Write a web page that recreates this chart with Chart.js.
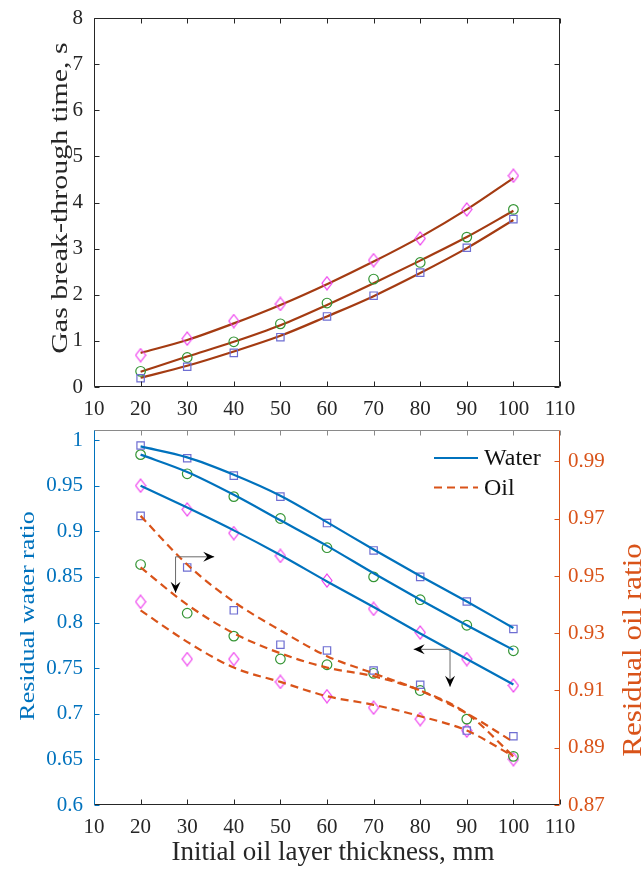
<!DOCTYPE html>
<html>
<head>
<meta charset="utf-8">
<script src="https://cdn.jsdelivr.net/npm/chart.js@4.4.1/dist/chart.umd.min.js"></script>
<style>
  body { margin: 0; background: #fff; width: 642px; height: 870px; overflow: hidden; position: relative; }
  canvas { position: absolute; left: 0; }
  #gasChart { top: 0; }
  #ratioChart { top: 420px; }
</style>
</head>
<body>
<canvas id="gasChart" width="642" height="430"></canvas>
<canvas id="ratioChart" width="642" height="450"></canvas>
<script>
// x values, mm
const thickness = [20, 30, 40, 50, 60, 70, 80, 90, 100];
const xTicks = [10, 20, 30, 40, 50, 60, 70, 80, 90, 100, 110];
const waterTicks = [0.6, 0.65, 0.7, 0.75, 0.8, 0.85, 0.9, 0.95, 1];
const oilTicks = [0.87, 0.89, 0.91, 0.93, 0.95, 0.97, 0.99];

// gas break-through time, s (markers + fitted curves)
const gasSquare  = [0.19, 0.44, 0.74, 1.08, 1.53, 1.98, 2.48, 3.02, 3.64];
const gasCircle  = [0.34, 0.64, 0.98, 1.37, 1.82, 2.34, 2.70, 3.25, 3.85];
const gasDiamond = [0.69, 1.05, 1.43, 1.80, 2.25, 2.75, 3.22, 3.85, 4.58];
const gasFitSquare  = [0.20, 0.46, 0.77, 1.11, 1.53, 1.97, 2.47, 3.01, 3.62];
const gasFitCircle  = [0.33, 0.66, 0.98, 1.34, 1.78, 2.25, 2.74, 3.25, 3.82];
const gasFitDiamond = [0.74, 1.02, 1.38, 1.78, 2.23, 2.72, 3.25, 3.85, 4.53];

// residual water ratio (left axis)
const waterSquare  = [0.994, 0.980, 0.961, 0.938, 0.909, 0.879, 0.850, 0.823, 0.793];
const waterCircle  = [0.984, 0.963, 0.938, 0.914, 0.882, 0.850, 0.825, 0.797, 0.769];
const waterDiamond = [0.950, 0.924, 0.898, 0.873, 0.846, 0.815, 0.789, 0.760, 0.731];
const waterFitSquare  = [0.993, 0.981, 0.962, 0.939, 0.910, 0.880, 0.851, 0.823, 0.794];
const waterFitCircle  = [0.984, 0.965, 0.940, 0.912, 0.884, 0.854, 0.825, 0.797, 0.770];
const waterFitDiamond = [0.950, 0.926, 0.901, 0.874, 0.845, 0.817, 0.788, 0.760, 0.732];

// residual oil ratio (right axis)
const oilSquare  = [0.971, 0.953, 0.938, 0.926, 0.924, 0.917, 0.912, 0.896, 0.894];
const oilCircle  = [0.954, 0.937, 0.929, 0.921, 0.919, 0.916, 0.910, 0.900, 0.887];
const oilDiamond = [0.941, 0.921, 0.921, 0.913, 0.908, 0.904, 0.900, 0.896, 0.886];
const oilFitSquare  = [0.971, 0.954, 0.941, 0.931, 0.922, 0.916, 0.910, 0.902, 0.892];
const oilFitCircle  = [0.953, 0.940, 0.930, 0.923, 0.918, 0.915, 0.910, 0.902, 0.887];
const oilFitDiamond = [0.938, 0.927, 0.918, 0.913, 0.908, 0.905, 0.901, 0.896, 0.887];

const FONT = "'Liberation Serif', 'Times New Roman', serif";
const AXIS = '#262626';
const BLUE = '#0072BD';
const ORANGE = '#D95319';
const FIT = '#A43B12';
const SQ = '#6E6ED2';
const CI = '#359535';
const DI = '#EE3DEE';

function diamond(color) {
  const c = document.createElement('canvas');
  c.width = 12; c.height = 15;
  const g = c.getContext('2d');
  g.strokeStyle = color; g.lineWidth = 1.2;
  g.beginPath();
  g.moveTo(6, 1); g.lineTo(11, 7.5); g.lineTo(6, 14); g.lineTo(1, 7.5); g.closePath();
  g.stroke();
  return c;
}
const diamondStyle = diamond(DI);

const pts = ys => thickness.map((x, i) => ({ x, y: ys[i] }));

function markers(ys, kind, axis) {
  const base = { data: pts(ys), showLine: false, pointBackgroundColor: 'transparent', pointBorderWidth: 1.2, label: '' };
  if (axis) base.yAxisID = axis;
  if (kind === 'sq') return { ...base, pointStyle: 'rect', pointRadius: 5.2, pointBorderColor: SQ };
  if (kind === 'ci') return { ...base, pointStyle: 'circle', pointRadius: 4.8, pointBorderColor: CI };
  return { ...base, pointStyle: diamondStyle, pointRadius: 6 };
}
function curve(ys, color, axis, dash, label) {
  const d = { data: pts(ys), borderColor: color, borderWidth: 2.2, pointRadius: 0, fill: false,
    cubicInterpolationMode: 'monotone', label: label || '' };
  if (axis) d.yAxisID = axis;
  if (dash) d.borderDash = dash;
  return d;
}

// inward ticks and box
const frame = {
  id: 'frame',
  afterDatasetsDraw(chart, args, o) {
    const { ctx, chartArea: a, scales } = chart;
    const tl = 5;
    ctx.save();
    ctx.lineWidth = 1;
    const seg = (x1, y1, x2, y2, c) => { ctx.strokeStyle = c; ctx.beginPath(); ctx.moveTo(x1, y1); ctx.lineTo(x2, y2); ctx.stroke(); };
    const L = a.left + 0.5, R = a.right - 0.5, T = a.top + 0.5, B = a.bottom - 0.5;
    scales.x.ticks.forEach(t => {
      const px = Math.round(scales.x.getPixelForValue(t.value)) + 0.5;
      seg(px, B, px, B - tl, o.bottom);
      seg(px, T, px, T + tl, o.top);
    });
    scales[o.leftScale].ticks.forEach(t => {
      const py = Math.round(scales[o.leftScale].getPixelForValue(t.value)) + 0.5;
      seg(L, py, L + tl, py, o.left);
    });
    scales[o.rightScale].ticks.forEach(t => {
      const py = Math.round(scales[o.rightScale].getPixelForValue(t.value)) + 0.5;
      seg(R, py, R - tl, py, o.right);
    });
    seg(L, B, R, B, o.bottom);
    seg(L, T, R, T, o.top);
    seg(L, T, L, B, o.left);
    seg(R, T, R, B, o.right);
    ctx.restore();
  }
};

// annotation arrows in data units
const arrows = {
  id: 'arrows',
  afterDatasetsDraw(chart, args, o) {
    if (!o.list) return;
    const { ctx, scales } = chart;
    const sx = scales.x, sy = scales.y;
    const head = (x, y, ang) => {
      ctx.save();
      ctx.translate(x, y); ctx.rotate(ang);
      ctx.fillStyle = '#000';
      ctx.beginPath();
      ctx.moveTo(0, 0); ctx.lineTo(-11, -5); ctx.lineTo(-7, 0); ctx.lineTo(-11, 5); ctx.closePath();
      ctx.fill();
      ctx.restore();
    };
    ctx.save();
    ctx.strokeStyle = '#6a6a6a';
    ctx.lineWidth = 1;
    o.list.forEach(ar => {
      const cx = sx.getPixelForValue(ar.x), cy = sy.getPixelForValue(ar.y);
      const hx = sx.getPixelForValue(ar.toX), vy = sy.getPixelForValue(ar.toY);
      ctx.beginPath();
      ctx.moveTo(hx, cy); ctx.lineTo(cx, cy); ctx.lineTo(cx, vy);
      ctx.stroke();
      head(hx, cy, hx > cx ? 0 : Math.PI);
      head(cx, vy, Math.PI / 2);
    });
    ctx.restore();
  }
};

// legend with only the two line types
const lineLegend = {
  id: 'lineLegend',
  afterDraw(chart, args, o) {
    if (!o.items) return;
    const { ctx, chartArea: a } = chart;
    ctx.save();
    ctx.font = '24px ' + FONT;
    ctx.textBaseline = 'middle';
    o.items.forEach((it, i) => {
      const ds = chart.data.datasets[it.index];
      const y = a.top + 28 + i * 29.5;
      const x0 = a.right - 126;
      ctx.strokeStyle = ds.borderColor;
      ctx.lineWidth = ds.borderWidth;
      ctx.setLineDash(ds.borderDash || []);
      ctx.beginPath(); ctx.moveTo(x0, y); ctx.lineTo(x0 + 44, y); ctx.stroke();
      ctx.setLineDash([]);
      ctx.fillStyle = '#111';
      ctx.fillText(it.text, x0 + 50, y + 1);
    });
    ctx.restore();
  }
};

// axis titles (vertical ones read bottom to top, slightly condensed like the source)
const titles = {
  id: 'titles',
  afterDraw(chart, args, o) {
    if (!o.list) return;
    const { ctx } = chart;
    o.list.forEach(t => {
      ctx.save();
      ctx.translate(t.x, t.y);
      if (t.vertical) { ctx.scale(t.squeeze || 1, 1); ctx.rotate(-Math.PI / 2); }
      ctx.font = t.size + 'px ' + FONT;
      ctx.fillStyle = t.color;
      ctx.textAlign = 'center';
      ctx.textBaseline = 'middle';
      ctx.fillText(t.text, 0, 0);
      ctx.restore();
    });
  }
};

const noPad = s => { s.paddingTop = 0; s.paddingBottom = 0; s.paddingLeft = 0; s.paddingRight = 0; };

const xScale = (h) => ({
  type: 'linear', min: 10, max: 110,
  afterBuildTicks: s => { s.ticks = xTicks.map(v => ({ value: v })); },
  afterFit: s => { s.height = h; noPad(s); },
  grid: { display: false, drawTicks: false },
  border: { display: false },
  ticks: { color: AXIS, font: { family: FONT, size: 21 }, padding: 10, maxRotation: 0, autoSkip: false }
});

new Chart(document.getElementById('gasChart'), {
  type: 'line',
  data: {
    datasets: [
      markers(gasSquare, 'sq'), markers(gasCircle, 'ci'), markers(gasDiamond, 'di'),
      curve(gasFitSquare, FIT), curve(gasFitCircle, FIT), curve(gasFitDiamond, FIT)
    ]
  },
  options: {
    responsive: false, animation: false,
    layout: { padding: { left: 0, right: 82, top: 18, bottom: 0 } },
    plugins: {
      legend: { display: false }, tooltip: { enabled: false },
      frame: { top: AXIS, bottom: AXIS, left: AXIS, right: AXIS, leftScale: 'y', rightScale: 'y' },
      titles: { list: [
        { text: 'Gas break-through time, s', x: 61, y: 198, size: 30, color: AXIS, vertical: true, squeeze: 0.8 }
      ] }
    },
    scales: {
      x: xScale(43),
      y: {
        type: 'linear', min: 0, max: 8,
        afterFit: s => { s.width = 94; noPad(s); },
        grid: { display: false, drawTicks: false },
        border: { display: false },
        ticks: { stepSize: 1, color: AXIS, font: { family: FONT, size: 21 }, padding: 11 }
      }
    }
  },
  plugins: [frame, titles]
});

new Chart(document.getElementById('ratioChart'), {
  type: 'line',
  data: {
    datasets: [
      curve(waterFitSquare, BLUE, 'y', null, 'Water'), curve(waterFitCircle, BLUE, 'y'), curve(waterFitDiamond, BLUE, 'y'),
      curve(oilFitSquare, ORANGE, 'y2', [8, 5], 'Oil'), curve(oilFitCircle, ORANGE, 'y2', [8, 5]), curve(oilFitDiamond, ORANGE, 'y2', [8, 5]),
      markers(waterSquare, 'sq', 'y'), markers(waterCircle, 'ci', 'y'), markers(waterDiamond, 'di', 'y'),
      markers(oilSquare, 'sq', 'y2'), markers(oilCircle, 'ci', 'y2'), markers(oilDiamond, 'di', 'y2')
    ]
  },
  options: {
    responsive: false, animation: false,
    layout: { padding: { left: 0, right: 0, top: 10, bottom: 0 } },
    plugins: {
      legend: { display: false }, tooltip: { enabled: false },
      frame: { top: '#8a8a8a', bottom: AXIS, left: BLUE, right: ORANGE, leftScale: 'y', rightScale: 'y2' },
      arrows: { list: [
        { x: 27.5, y: 0.872, toX: 35.8, toY: 0.8325 },
        { x: 86.4, y: 0.7706, toX: 78.6, toY: 0.7297 }
      ] },
      lineLegend: { items: [ { index: 0, text: 'Water' }, { index: 3, text: 'Oil' } ] },
      titles: { list: [
        { text: 'Residual water ratio', x: 29, y: 196, size: 26, color: BLUE, vertical: true, squeeze: 0.78 },
        { text: 'Residual oil ratio', x: 634, y: 230, size: 31, color: ORANGE, vertical: true, squeeze: 0.85 },
        { text: 'Initial oil layer thickness, mm', x: 333, y: 433, size: 27, color: AXIS }
      ] }
    },
    scales: {
      x: xScale(65),
      y: {
        type: 'linear', position: 'left', min: 0.6, max: 1.011,
        afterBuildTicks: s => { s.ticks = waterTicks.map(v => ({ value: v })); },
        afterFit: s => { s.width = 94; noPad(s); },
        grid: { display: false, drawTicks: false },
        border: { display: false },
        ticks: { color: BLUE, font: { family: FONT, size: 21 }, padding: 11, callback: v => String(+v.toFixed(2)) }
      },
      y2: {
        type: 'linear', position: 'right', min: 0.87, max: 1.001,
        afterBuildTicks: s => { s.ticks = oilTicks.map(v => ({ value: v })); },
        afterFit: s => { s.width = 82; noPad(s); },
        grid: { display: false, drawTicks: false },
        border: { display: false },
        ticks: { color: ORANGE, font: { family: FONT, size: 21 }, padding: 8, callback: v => String(+v.toFixed(2)) }
      }
    }
  },
  plugins: [frame, arrows, lineLegend, titles]
});
</script>
</body>
</html>
